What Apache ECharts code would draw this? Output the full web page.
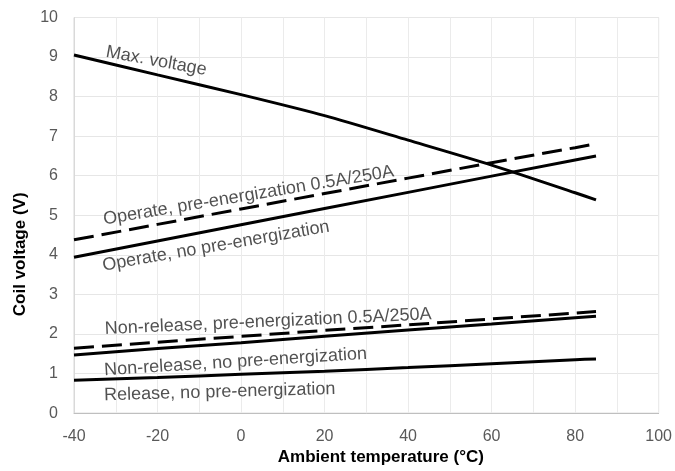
<!DOCTYPE html>
<html>
<head>
<meta charset="utf-8">
<script src="https://cdn.jsdelivr.net/npm/echarts@6/dist/echarts.min.js"></script>
<style>
html,body{margin:0;padding:0;background:#fff;}
#chart{width:675px;height:471px;}
</style>
</head>
<body>
<div id="chart"></div>
<script>
// Temperatures (°C)
const temps = [-40, -20, 0, 20, 40, 60, 80, 85];
// Series values (V)
const maxVoltage        = [9.05, 8.55, 8.05, 7.52, 6.90, 6.27, 5.57, 5.39];
const operatePre        = [4.38, 4.77, 5.16, 5.55, 5.94, 6.33, 6.71, 6.81];
const operateNoPre      = [3.94, 4.35, 4.76, 5.17, 5.58, 5.99, 6.40, 6.50];
const nonReleasePre     = [1.64, 1.79, 1.94, 2.09, 2.23, 2.38, 2.53, 2.57];
const nonReleaseNoPre   = [1.47, 1.63, 1.78, 1.94, 2.10, 2.25, 2.41, 2.45];
const releaseNoPre      = [0.83, 0.90, 0.98, 1.06, 1.15, 1.25, 1.35, 1.37];
// Curve labels: text, anchor temperature, anchor voltage, rotation (deg)
const labelTexts = ['Max. voltage', 'Operate, pre-energization 0.5A/250A', 'Operate, no pre-energization',
                    'Non-release, pre-energization 0.5A/250A', 'Non-release, no pre-energization', 'Release, no pre-energization'];
const labelX = [-20.3, 1.8, -6.0, 6.5, -1.3, -5.1];
const labelY = [8.90, 5.50, 4.22, 2.31, 1.29, 0.53];
const labelRot = [-10.4, 9.4, 9.8, 2.6, 3.6, 1.6];
// Axis ranges
const xMin = -40, xMax = 100, xStep = 20;
const yMin = 0, yMax = 10, yStep = 1;

const font = '"Liberation Sans", Arial, sans-serif';
const pairs = arr => temps.map((t, i) => [t, arr[i]]);
function lineSeries(name, arr, dashed, smooth) {
  return {
    name, type: 'line', data: pairs(arr), symbol: 'none', smooth: smooth || false,
    lineStyle: { color: '#000', width: 3, type: dashed ? [20, 8] : 'solid', cap: 'butt' },
    silent: true, z: 3
  };
}
const chart = echarts.init(document.getElementById('chart'), null, { renderer: 'canvas' });
chart.setOption({
  animation: false,
  backgroundColor: '#fff',
  grid: { left: 74, right: 16, top: 17.5, bottom: 52, show: true, borderColor: '#d9d9d9', borderWidth: 1 },
  xAxis: {
    type: 'value', min: xMin, max: xMax, interval: xStep,
    name: 'Ambient temperature (°C)', nameLocation: 'middle', nameGap: 28,
    nameTextStyle: { fontFamily: font, fontSize: 17, fontWeight: 'bold', color: '#000', padding: [0, 0, 0, 29] },
    axisLine: { show: true, onZero: false, lineStyle: { color: '#bfbfbf', width: 1 } },
    axisTick: { show: false },
    minorTick: { show: false, splitNumber: 2 },
    splitLine: { show: true, lineStyle: { color: '#ebebeb', width: 1 } },
    minorSplitLine: { show: true, lineStyle: { color: '#ebebeb', width: 1 } },
    axisLabel: { fontFamily: font, fontSize: 16, color: '#595959', margin: 15 }
  },
  yAxis: {
    type: 'value', min: yMin, max: yMax, interval: yStep,
    name: 'Coil voltage (V)', nameLocation: 'middle', nameGap: 44,
    nameTextStyle: { fontFamily: font, fontSize: 17, fontWeight: 'bold', color: '#000', padding: [0, 78, 0, 0] },
    axisLine: { show: true, onZero: false, lineStyle: { color: '#d9d9d9', width: 1 } },
    axisTick: { show: false },
    splitLine: { show: true, lineStyle: { color: '#e6e6e6', width: 1 } },
    axisLabel: { fontFamily: font, fontSize: 16, color: '#595959', margin: 16 }
  },
  series: [
    lineSeries('Max. voltage', maxVoltage, false, 0.25),
    lineSeries('Operate, pre-energization 0.5A/250A', operatePre, true),
    lineSeries('Operate, no pre-energization', operateNoPre, false),
    lineSeries('Non-release, pre-energization 0.5A/250A', nonReleasePre, true),
    lineSeries('Non-release, no pre-energization', nonReleaseNoPre, false),
    lineSeries('Release, no pre-energization', releaseNoPre, false, 0.25),
    {
      name: 'labels', type: 'scatter', symbolSize: 0, silent: true, z: 4,
      data: labelTexts.map((t, i) => ({
        value: [labelX[i], labelY[i]], name: t,
        label: { show: true, position: 'inside', formatter: t, rotate: labelRot[i],
                 fontFamily: font, fontSize: 18, color: '#262626', align: 'center', verticalAlign: 'middle' }
      }))
    }
  ]
});
</script>
</body>
</html>
